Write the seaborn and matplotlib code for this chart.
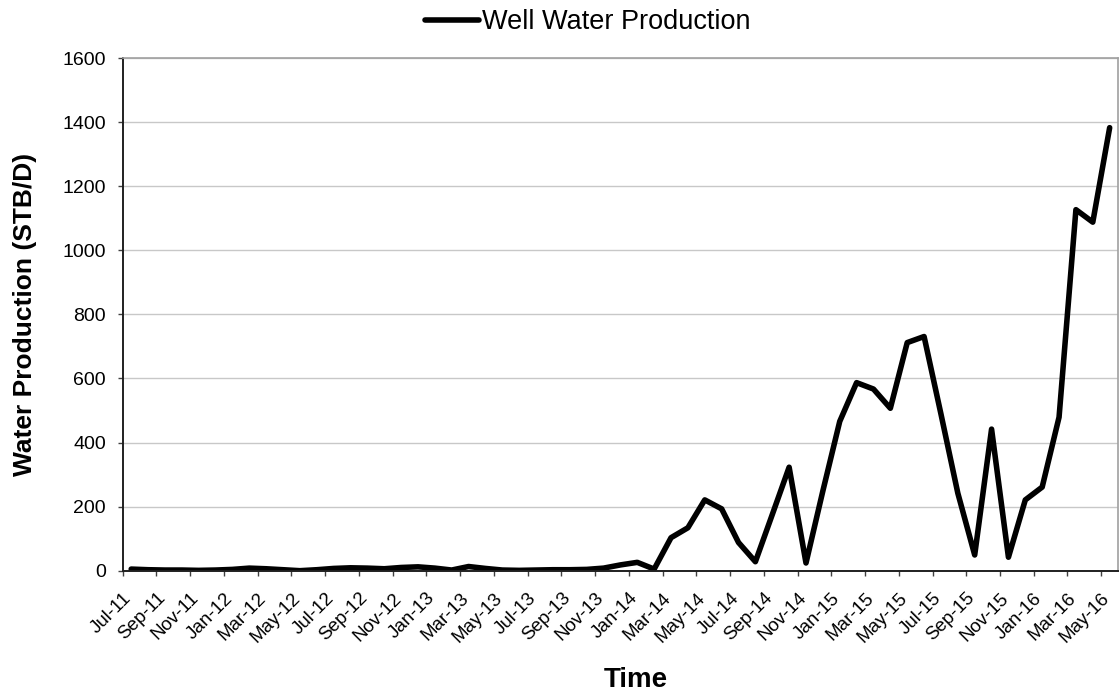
import numpy as np
import pandas as pd
import matplotlib
matplotlib.use("Agg")
import matplotlib.pyplot as plt
import matplotlib.transforms as mtransforms
import seaborn as sns

# Monthly water production of the well, Jul-2011 .. May-2016
months = list(pd.date_range("2011-07-01", periods=59, freq="MS").strftime("%b-%y"))
water_rate = [
    5, 3, 2, 2, 1, 2, 4, 8, 6, 3,            # Jul-11 .. Apr-12
    0, 3, 7, 9, 8, 6, 10, 12, 8, 2,          # May-12 .. Feb-13
    13, 7, 2, 1, 2, 3, 3, 4, 8, 18,          # Mar-13 .. Dec-13
    26, 5, 103, 134, 221, 193, 88, 28, 175, 323,   # Jan-14 .. Oct-14
    24, 249, 466, 587, 567, 507, 712, 731, 489, 242,  # Nov-14 .. Aug-15
    49, 442, 42, 221, 261, 479, 1127, 1088, 1383,     # Sep-15 .. May-16
]
y_ticks = [0, 200, 400, 600, 800, 1000, 1200, 1400, 1600]
series_name = "Well Water Production"

df = pd.DataFrame({"idx": np.arange(len(months)), "month": months, "rate": water_rate})

sns.set_style("white")
plt.rcParams["font.family"] = ["Liberation Sans", "DejaVu Sans"]
plt.rcParams["text.color"] = "black"
plt.rcParams["axes.labelcolor"] = "black"
plt.rcParams["xtick.color"] = "black"
plt.rcParams["ytick.color"] = "black"

fig = plt.figure(figsize=(11.2, 6.98), dpi=100)
ax = fig.add_axes([0.1096, 0.1824, 0.8887, 0.7343])

sns.lineplot(data=df, x="idx", y="rate", ax=ax, color="black", linewidth=4.0,
             label=series_name, legend=False)

# category-style date axis: points sit between the tick marks
ax.set_xlim(-0.5, len(months) - 0.5)
ax.set_ylim(0, 1600)
ax.set_yticks(y_ticks)
ax.set_yticklabels([str(v) for v in y_ticks], fontsize=14)

tick_pos = np.arange(0, len(months), 2) - 0.5
ax.set_xticks(tick_pos)
ax.set_xticklabels([months[i] for i in range(0, len(months), 2)], rotation=45,
                   ha="right", rotation_mode="anchor", fontsize=13.5)
shift = mtransforms.ScaledTranslation(4 / 100, 0, fig.dpi_scale_trans)
for lbl in ax.get_xticklabels():
    lbl.set_transform(lbl.get_transform() + shift)

ax.yaxis.grid(True, color="#c8c8c8", linewidth=1.0)
ax.xaxis.grid(False)
ax.set_axisbelow(True)

for side in ("top", "right"):
    ax.spines[side].set_color("#a0a0a0")
    ax.spines[side].set_linewidth(1.2)
for side in ("left", "bottom"):
    ax.spines[side].set_color("#202020")
    ax.spines[side].set_linewidth(1.4)

ax.tick_params(axis="both", direction="out", length=3.6, width=1.0, color="#404040",
               labelcolor="black", bottom=True, left=True)
ax.tick_params(axis="y", pad=8.5)
ax.tick_params(axis="x", pad=10)

ax.set_xlabel("Time", fontsize=20, fontweight="bold", va="center", color="black")
ax.xaxis.set_label_coords(0.515, -0.213)
ax.set_ylabel("Water Production (STB/D)", fontsize=19, fontweight="bold", va="center",
              color="black")
ax.yaxis.set_label_coords(-0.098, 0.5)

handles, labels = ax.get_legend_handles_labels()
fig.legend(handles, labels, loc="upper center", bbox_to_anchor=(0.525, 1.022),
           frameon=False, fontsize=19.5, handlelength=2.0, handletextpad=0.1,
           labelcolor="black")

fig.savefig("out.png", dpi=100)
